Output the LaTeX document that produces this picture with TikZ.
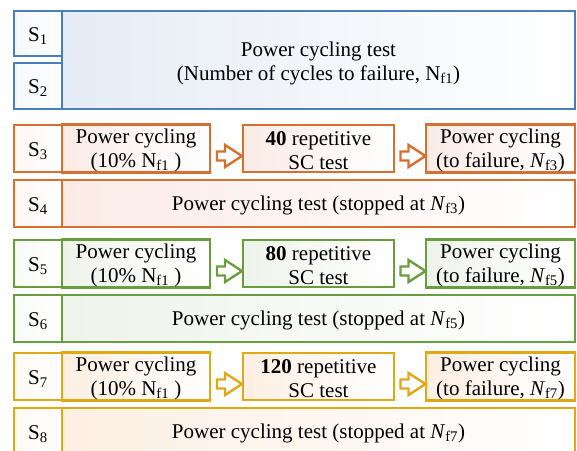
\documentclass[tikz,border=0pt]{standalone}
\usepackage{fontspec}
\setmainfont{Liberation Serif}
\usetikzlibrary{calc}
\definecolor{cblue}{RGB}{74,126,187}
\definecolor{tblue}{RGB}{230,236,245}
\definecolor{corange}{RGB}{214,112,48}
\definecolor{torange}{RGB}{251,235,230}
\definecolor{cgreen}{RGB}{106,157,62}
\definecolor{tgreen}{RGB}{238,243,235}
\definecolor{cgold}{RGB}{224,168,20}
\definecolor{tgold}{RGB}{253,239,226}
\tikzset{
  boxsty/.style 2 args={draw=#1, left color=#2, right color=white, line width=2.9pt,
    inner sep=0pt, align=center, text=black, font=\fontsize{21}{24}\selectfont},
  labsty/.style 2 args={draw=#1, left color=#2!40!white, right color=white, line width=2.9pt,
    inner sep=0pt, align=center, text=black, text height=17pt, text depth=2pt,
    font=\fontsize{21}{24}\selectfont},
  arrowsty/.style={draw=#1, fill=white, line width=2.4pt, line join=miter},
}
\begin{document}
\begin{tikzpicture}[x=1pt,y=-1pt]
\clip (0,0) rectangle (577,450);
% blue group
\node[boxsty={cblue}{tblue}, minimum width=513pt, minimum height=98pt] (p1) at (318.5,60)
  {\rule{0pt}{21pt}Power cycling test\\(Number of cycles to failure, N\textsubscript{f1})};
\node[labsty={cblue}{tblue}, minimum width=48pt, minimum height=45pt] (s1) at (38,33.5) {S\textsubscript{1}};
\node[labsty={cblue}{tblue}, minimum width=48pt, minimum height=46pt] (s2) at (38,86) {S\textsubscript{2}};
% three coloured groups
\foreach \c/\t/\y/\k/\num in {corange/torange/125/3/40, cgreen/tgreen/240/5/80, cgold/tgold/353/7/120} {
  \pgfmathtruncatemacro\kk{\k+1}
  \node[boxsty={\c}{\t}, minimum width=148pt, minimum height=47pt] (a\k) at (136,{\y+23.5})
    {\rule{0pt}{19pt}Power cycling\\(10\% N\textsubscript{f1} )};
  \node[boxsty={\c}{\t}, minimum width=151pt, minimum height=47pt] (b\k) at (318.5,{\y+23.5})
    {\rule{0pt}{19pt}\textbf{\num} repetitive\\SC test};
  \node[boxsty={\c}{\t}, minimum width=149pt, minimum height=47pt] (c\k) at (500.5,{\y+23.5})
    {\rule{0pt}{19pt}Power cycling\\(to failure, \textit{N}\textsubscript{f\k})};
  \node[labsty={\c}{\t}, minimum width=48pt, minimum height=47pt] (s\k) at (38,{\y+23.5}) {S\textsubscript{\k}};
  \node[boxsty={\c}{\t}, minimum width=513pt, minimum height=47pt, text height=17pt, text depth=3pt] (l\kk) at (318.5,{\y+78.5})
    {Power cycling test (stopped at \textit{N}\textsubscript{f\k})};
  \node[labsty={\c}{\t}, minimum width=48pt, minimum height=47pt] (s\kk) at (38,{\y+78.5}) {S\textsubscript{\kk}};
  \coordinate (m\k) at ($(a\k.east)!.5!(b\k.west)+(1.5,7.5)$);
  \coordinate (n\k) at ($(b\k.east)!.5!(c\k.west)+(1.5,7.5)$);
  \draw[arrowsty=\c] ($(m\k)+(-11,-4.5)$) -- ++(8,0) -- ++(0,-6.5) -- ++(17,11) -- ++(-17,11)
    -- ++(0,-6.5) -- ++(-8,0) -- cycle;
  \draw[arrowsty=\c] ($(n\k)+(-11,-4.5)$) -- ++(8,0) -- ++(0,-6.5) -- ++(17,11) -- ++(-17,11)
    -- ++(0,-6.5) -- ++(-8,0) -- cycle;
}
\end{tikzpicture}
\end{document}
